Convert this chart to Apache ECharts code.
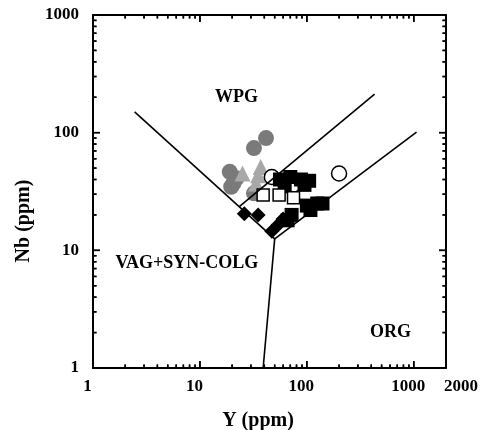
<!DOCTYPE html>
<html>
<head>
<meta charset="utf-8">
<script src="https://cdn.jsdelivr.net/npm/echarts@6.0.0/dist/echarts.min.js"></script>
<style>
  html, body { margin: 0; padding: 0; background: #fff; }
  #chart { width: 484px; height: 430px; }
</style>
</head>
<body>
<div id="chart"></div>
<script>
// samples, [Y ppm, Nb ppm]
const grayCircles = [[32, 74], [41.5, 90], [19, 46.5], [22, 41], [20.5, 37], [19.6, 34.7], [32, 30.5]];
const grayTriangles = [[25, 45], [37, 51], [35, 43.5], [33.5, 37]];
const openCircles = [[200, 45], [47, 42], [74, 36]];
const blackSquares = [[56, 40], [70, 42], [88, 40], [105, 39], [62, 35], [95, 36],
                      [100, 24], [125, 25], [140, 25], [108, 22], [72, 20], [66, 18]];
const openSquares = [[39, 29.5], [55, 29.5], [75, 28]];
const blackDiamonds = [[26, 20.5], [35, 20], [47, 14.5], [54, 16.5], [60, 18.5]];

// field boundaries
const leftBoundary = [[2.45, 150], [50, 12.5]];
const upperBoundary = [[23.5, 23.6], [430, 213]];
const lowerBoundary = [[50, 12.5], [1060, 101]];
const stemBoundary = [[50, 12.5], [39, 1]];

// field names
const fieldNames = ['WPG', 'VAG+SYN-COLG', 'ORG'];
const fieldPos = [[22, 200], [7.55, 7.8], [607, 2.02]];

// ticks
const xMajor = [10, 100, 1000];
const xLabels = [1, 10, 100, 1000, 2000];
const yMajor = [10, 100];
const yLabels = [1, 10, 100, 1000];
const xMinor = [2, 3, 4, 5, 6, 7, 8, 9, 20, 30, 40, 50, 60, 70, 80, 90, 200, 300, 400, 500, 600, 700, 800, 900];
const yMinor = [2, 3, 4, 5, 6, 7, 8, 9, 20, 30, 40, 50, 60, 70, 80, 90, 200, 300, 400, 500, 600, 700, 800, 900];

const xMin = 1, xMax = 2000, yMin = 1, yMax = 1000;
const serif = '"Liberation Serif", "Times New Roman", serif';
const frame = { show: true, onZero: false, lineStyle: { color: '#000', width: 2 } };

const xLabel = {
  show: true, customValues: xLabels, margin: 10,
  formatter: v => v === 2000 ? '{r|2000}' : '{a|' + v + '}',
  rich: {
    a: { padding: [0, 11, 0, 0], fontFamily: serif, fontWeight: 'bold', fontSize: 17, color: '#000' },
    r: { padding: [0, 0, 0, 30], fontFamily: serif, fontWeight: 'bold', fontSize: 17, color: '#000' }
  }
};
const yLabel = {
  show: true, customValues: yLabels, margin: 14, formatter: v => String(v),
  fontFamily: serif, fontWeight: 'bold', fontSize: 17, color: '#000'
};

const makeX = (pos, label) => ({
  type: 'log', logBase: 10, min: xMin, max: xMax, position: pos,
  axisLine: frame, axisTick: { show: false },
  axisLabel: label || { show: false },
  splitLine: { show: false }, minorTick: { show: false }
});
const makeY = (pos, label) => ({
  type: 'log', logBase: 10, min: yMin, max: yMax, position: pos,
  axisLine: frame, axisTick: { show: false },
  axisLabel: label || { show: false },
  splitLine: { show: false }, minorTick: { show: false }
});

const pts = (name, data, symbol, size, fill, border) => ({
  name: name, type: 'scatter', data: data, symbol: symbol, symbolSize: size,
  xAxisIndex: 0, yAxisIndex: 0,
  itemStyle: { color: fill, borderColor: border, borderWidth: border ? 1.5 : 0, opacity: 1 }
});

const boundary = data => ({
  type: 'line', data: data, symbol: 'none', xAxisIndex: 0, yAxisIndex: 0,
  lineStyle: { color: '#000', width: 1.6 }, silent: true
});

// inward tick marks as thin rect symbols sitting on the frame
const tickSeries = (data, size, offset) => ({
  type: 'scatter', data: data, symbol: 'rect', symbolSize: size, symbolOffset: offset,
  xAxisIndex: 0, yAxisIndex: 0, clip: false, silent: true, z: 5,
  itemStyle: { color: '#000', opacity: 1 }
});
const tickMarks = [
  tickSeries(xMajor.map(v => [v, yMin]), [1.5, 7], [0, -3.5]),
  tickSeries(xMajor.map(v => [v, yMax]), [1.5, 7], [0, 3.5]),
  tickSeries(xMinor.map(v => [v, yMin]), [1.5, 3.5], [0, -1.75]),
  tickSeries(xMinor.map(v => [v, yMax]), [1.5, 3.5], [0, 1.75]),
  tickSeries(yMajor.map(v => [xMin, v]), [7, 1.5], [3.5, 0]),
  tickSeries(yMajor.map(v => [xMax, v]), [7, 1.5], [-3.5, 0]),
  tickSeries(yMinor.map(v => [xMin, v]), [3.5, 1.5], [1.75, 0]),
  tickSeries(yMinor.map(v => [xMax, v]), [3.5, 1.5], [-1.75, 0])
];

const axisNames = [
  {
    id: 'xname', type: 'text', x: 258, y: 421,
    style: { text: 'Y (ppm)', textAlign: 'center', textVerticalAlign: 'middle',
             font: 'bold 20px "Liberation Serif", serif', fill: '#000' }
  },
  {
    id: 'yname', type: 'text', x: 24, y: 221, rotation: Math.PI / 2,
    style: { text: 'Nb (ppm)', textAlign: 'center', textVerticalAlign: 'middle',
             font: 'bold 20px "Liberation Serif", serif', fill: '#000' }
  }
];

const chart = echarts.init(document.getElementById('chart'));
chart.setOption({
  animation: false,
  backgroundColor: '#fff',
  grid: { left: 93, right: 38, top: 15, bottom: 62, containLabel: false },
  xAxis: [makeX('bottom', xLabel), makeX('top')],
  yAxis: [makeY('left', yLabel), makeY('right')],
  series: tickMarks.concat([
    boundary(leftBoundary),
    boundary(upperBoundary),
    boundary(lowerBoundary),
    boundary(stemBoundary),
    pts('grayCircles', grayCircles, 'circle', 16, '#7a7a7a', null),
    pts('grayTriangles', grayTriangles, 'triangle', 16, '#a8a8a8', null),
    pts('openCircles', openCircles, 'circle', 15, '#fff', '#000'),
    pts('blackSquares', blackSquares, 'rect', 14, '#000', null),
    pts('openSquares', openSquares, 'rect', 12, '#fff', '#000'),
    pts('blackDiamonds', blackDiamonds, 'diamond', 15, '#000', null),
    {
      type: 'scatter', symbolSize: 0, xAxisIndex: 0, yAxisIndex: 0, silent: true,
      itemStyle: { opacity: 1 },
      data: fieldNames.map((n, i) => ({ name: n, value: fieldPos[i] })),
      label: {
        show: true, position: 'inside', formatter: p => p.name,
        fontFamily: serif, fontWeight: 'bold', fontSize: 18, color: '#000'
      }
    }
  ]),
  graphic: axisNames
});

// same ticks again as graphic rects, positioned through the axes' scales
const toPx = p => chart.convertToPixel({ gridIndex: 0 }, p);
const lo = toPx([xMin, yMin]);
const hi = toPx([xMax, yMax]);
const tickEls = [];
const tick = (x, y, w, h) => tickEls.push({
  id: 't' + tickEls.length, type: 'rect', silent: true, z: 50,
  shape: { x: x, y: y, width: w, height: h },
  style: { fill: '#000' }
});
const xTicks = (vals, len) => vals.forEach(v => {
  const x = toPx([v, yMin])[0];
  tick(x - 0.75, lo[1] - len, 1.5, len);
  tick(x - 0.75, hi[1], 1.5, len);
});
const yTicks = (vals, len) => vals.forEach(v => {
  const y = toPx([xMin, v])[1];
  tick(lo[0], y - 0.75, len, 1.5);
  tick(hi[0] - len, y - 0.75, len, 1.5);
});
xTicks(xMajor, 7); xTicks(xMinor, 3.5);
yTicks(yMajor, 7); yTicks(yMinor, 3.5);

chart.setOption({ graphic: axisNames.concat(tickEls) });
</script>
</body>
</html>
